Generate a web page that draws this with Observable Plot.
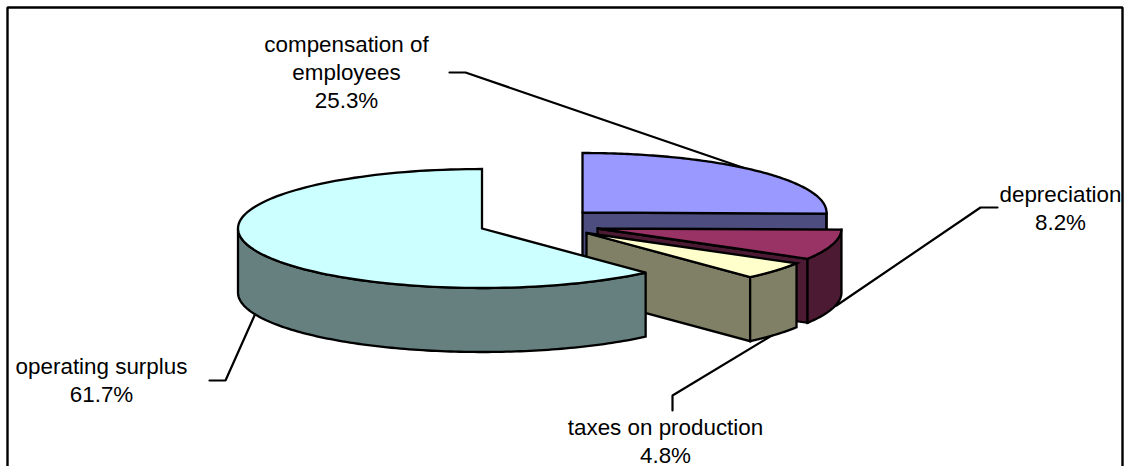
<!DOCTYPE html>
<html>
<head>
<meta charset="utf-8">
<script src="https://cdn.jsdelivr.net/npm/d3@7"></script>
<script src="https://cdn.jsdelivr.net/npm/@observablehq/plot@0.6"></script>
<style>html,body{margin:0;padding:0;background:#fff}svg{display:block}</style>
</head>
<body>
<div id="chart"></div>
<script>
// Data: shares, clockwise from 12 o'clock
const categories = ["compensation of employees", "depreciation", "taxes on production", "operating surplus"];
const shares = [25.3, 8.2, 4.8, 61.7];
const labelLines = [["compensation of", "employees", "25.3%"], ["depreciation", "8.2%"], ["taxes on production", "4.8%"], ["operating surplus", "61.7%"]];

// Presentation
const topColors = ["#9999FF", "#993366", "#FFFFCC", "#CCFFFF"];
const sideColors = ["#4D4D80", "#4D1A33", "#808066", "#668080"];
const centers = [[582, 212], [597, 228], [586, 232.5], [481.5, 228]];
const rx = 244, ry = 59.5, depth = 64;
const labelAnchors = [[346, 51], [1060, 201], [665, 434], [101, 373]];
const lineGap = 28.4;
const leaders = [
  [[449, 72], [465, 72], [745, 168]],
  [[997, 207], [980, 207], [836, 305]],
  [[672, 410], [672, 395], [773, 334]],
  [[209, 380], [225, 380], [254, 315]]
];
const frame = [[7, 470], [7, 7], [1122, 7], [1122, 470]];

// Turn the shares into cumulative angles, clockwise from the top
const total = d3.sum(shares);
const cumulative = d3.cumsum(shares);
const slices = categories.map((c, i) => ({
  c, i,
  a0: ((cumulative[i] - shares[i]) / total) * 2 * Math.PI,
  a1: (cumulative[i] / total) * 2 * Math.PI
}));
const pt = (i, a, dz = 0) => [centers[i][0] + rx * Math.sin(a), centers[i][1] - ry * Math.cos(a) + dz];
const arc = (i, a0, a1, dz = 0) => d3.range(0, 121).map((k) => pt(i, a0 + (a1 - a0) * k / 120, dz));
const closed = (p) => [...p, p[0]];

function slicePolys(s) {
  const { i, a0, a1 } = s;
  const c = centers[i];
  const top = closed([c, ...arc(i, a0, a1)]);
  const polys = [];
  // cut face at the end of the slice, only if it faces the viewer
  const cut = (a) => closed([c, pt(i, a), pt(i, a, depth), [c[0], c[1] + depth]]);
  if (Math.sin(a1) > 0 && i < 3) polys.push([cut(a1), sideColors[i]]);
  // outer wall: only the front half of the rim (angles between 90° and 270°)
  const lo = Math.max(a0, Math.PI / 2), hi = Math.min(a1, 3 * Math.PI / 2);
  if (hi > lo) polys.push([closed([...arc(i, lo, hi), ...arc(i, hi, lo, depth)]), sideColors[i]]);
  polys.push([top, topColors[i]]);
  return polys;
}

const polyMarks = slices.flatMap((s) => slicePolys(s).map(([p, fill]) =>
  Plot.line(p, { x: (d) => d[0], y: (d) => d[1], fill, stroke: "#000", strokeWidth: 2.3, strokeLinejoin: "miter", strokeMiterlimit: 4, curve: "linear" })
));

const labelRows = labelLines.flatMap((lines, i) => lines.map((t, k) => ({ t, x: labelAnchors[i][0], y: labelAnchors[i][1] + k * lineGap })));

const plot = Plot.plot({
  width: 1124, height: 466,
  margin: 0,
  x: { domain: [0, 1124], range: [0, 1124], axis: null },
  y: { domain: [0, 466], range: [0, 466], axis: null },
  style: { background: "#fff", overflow: "hidden" },
  marks: [
    Plot.line(frame, { x: (d) => d[0], y: (d) => d[1], stroke: "#000", strokeWidth: 2.4, strokeLinejoin: "miter", clip: "frame" }),
    ...leaders.map((l) => Plot.line(l, { x: (d) => d[0], y: (d) => d[1], stroke: "#000", strokeWidth: 2.2, strokeLinejoin: "miter" })),
    ...polyMarks,
    Plot.text(labelRows, { x: "x", y: "y", text: "t", textAnchor: "middle", lineAnchor: "bottom", dy: 0, fontFamily: "'Liberation Sans', Arial, sans-serif", fontSize: 22.4, fill: "#000" })
  ]
});
document.getElementById("chart").append(plot);
</script>
</body>
</html>
